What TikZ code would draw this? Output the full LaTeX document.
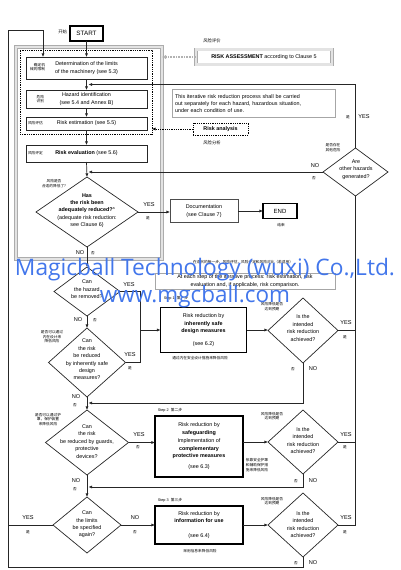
\documentclass[tikz,border=0pt]{standalone}
\usepackage{fontspec}
\setmainfont{Liberation Sans}
\newfontfamily\cjk{Noto Sans CJK SC}
\newfontfamily\wmfont{Open Sans}
\usetikzlibrary{shapes.geometric,arrows.meta}
\definecolor{wmblue}{RGB}{66,118,235}
\newcommand\myfs{\fontsize{5.4}{7.4}\selectfont}
\newcommand\zhfs{\cjk\fontsize{3.7}{4.6}\selectfont}
\begin{document}
\begin{tikzpicture}[x=1pt,y=-1pt,
  every node/.style={inner sep=0pt, outer sep=0pt},
  box/.style={draw=black!85, line width=0.7pt, align=center, font=\myfs},
  tbox/.style={draw=black, line width=1.6pt, align=center, font=\myfs},
  dia/.style={diamond, draw=black!85, line width=0.7pt, inner sep=0pt},
  dtxt/.style={align=center, font=\myfs},
  zh/.style={align=center, font=\zhfs},
  lab/.style={font=\fontsize{5.6}{6}\selectfont},
  ln/.style={draw=black!85, line width=0.7pt},
  arr/.style={ln, -{Latex[length=3.6pt,width=3.2pt]}},
  hatch/.style={draw=gray!65, line width=0.5pt, double=gray!22, double distance=2.8pt},
  dotbox/.style={draw=black, line width=0.9pt, dash pattern=on 0.9pt off 0.9pt},
  notebox/.style={draw=gray!70, line width=0.5pt, font=\myfs},
  wmark/.style={text=wmblue, font=\wmfont}
]
\useasboundingbox (0,0) rectangle (400,570);

% risk assessment frames
\node[hatch, minimum width=146pt, minimum height=212pt] (assess) at (89,153) {};
\node[dotbox, minimum width=132pt, minimum height=84pt] (analysis) at (86,92) {};
\node[hatch, double distance=2.4pt, minimum width=136pt, minimum height=15pt, font=\myfs] (ra) at (264,57) {\textbf{RISK ASSESSMENT} according to Clause 5};
\node[zh, font=\cjk\fontsize{4.3}{5}\selectfont] (razh) at (212,41) {风险评价};
\draw[draw=gray!60, line width=1.1pt, dash pattern=on 0.8pt off 0.8pt, -{Latex[open,length=4pt,width=4.5pt]}] (ra.west) -- (ra.west -| assess.east);
\node[dotbox, minimum width=55pt, minimum height=12pt, font=\myfs] (ranal) at (220.5,129) {\textbf{Risk analysis}};
\node[zh, font=\cjk\fontsize{4.3}{5}\selectfont] (ranzh) at (212,143) {风险分析};
\draw[draw=black, line width=0.9pt, dash pattern=on 0.9pt off 0.9pt, -{Latex[length=3.6pt,width=3.2pt]}] (ranal.west) -- (ranal.west -| analysis.east);

\node[notebox, minimum width=163pt, minimum height=28pt, align=left, text width=157pt] (note) at (253.5,103.5) {This iterative risk reduction process shall be carried\\out separately for each hazard, hazardous situation,\\under each condition of use.};

% start
\node[tbox, minimum width=33pt, minimum height=15pt, font=\fontsize{6.3}{7}\selectfont] (start) at (86.5,33.5) {START};
\node[zh, anchor=east, font=\cjk\fontsize{4.3}{5}\selectfont] (kaishi) at (67,32) {开始};

% analysis steps
\node[box, minimum width=121pt, minimum height=22pt] (det) at (86.5,68) {Determination of the limits\\of the machinery (see 5.3)};
\node[zh, anchor=east, align=right] (detzh) at (45,67) {确定机\\械的限制};
\node[box, minimum width=121pt, minimum height=18pt] (haz) at (86.5,99) {Hazard identification\\(see 5.4 and Annex B)};
\node[zh, anchor=east, align=right] (hazzh) at (44,99) {危险\\识别};
\node[box, minimum width=121pt, minimum height=13pt] (est) at (86.5,123.5) {Risk estimation (see 5.5)};
\node[zh, anchor=west] (estzh) at (28,123.5) {风险评估};
\node[box, minimum width=121pt, minimum height=17pt] (eval) at (86.5,153.5) {\textbf{Risk evaluation} (see 5.6)};
\node[zh, anchor=west] (evalzh) at (28,153.5) {风险评定};

% decision 1
\node[dia, minimum width=102pt, minimum height=70pt] (d1) at (87,212) {};
\node[dtxt] (d1t) at (87,210.5) {\textbf{Has}\\\textbf{the risk been}\\\textbf{adequately reduced?}\textsuperscript{a}\\(adequate risk reduction:\\see Clause 6)};
\node[zh] (d1zh) at (54,183.5) {风险是否\\合适的降低了?};
\node[lab] (d1yes) at (149,205) {YES};
\node[zh] (d1shi) at (148,218) {是};
\node[lab] (d1no) at (80,253) {NO};
\node[zh] (d1fou) at (93,253) {否};

\node[box, draw=black!70, minimum width=68pt, minimum height=23pt] (doc) at (204,211) {Documentation\\(see Clause 7)};
\node[tbox, minimum width=34pt, minimum height=15pt, font=\fontsize{6}{7}\selectfont] (endn) at (280,211) {END};
\node[zh] (endzh) at (281,225) {结束};

% other hazards
\node[dia, minimum width=65pt, minimum height=48pt] (rh) at (355.5,172) {};
\node[dtxt] (rht) at (356,169.5) {Are\\other hazards\\generated?};
\node[zh] (rhzh) at (333,147.5) {是否存在\\其他危险};
\node[lab] (rhyes) at (364,117) {YES};
\node[zh] (rhshi) at (348,117) {是};
\node[lab] (rhno) at (315,166) {NO};
\node[zh] (rhfou) at (314,178) {否};

% step notes
\node[zh] (stepzh) at (243,262) {在迭代的每一步，风险评估，风险评定和风险对比（若适用）};
\node[notebox, minimum width=180pt, minimum height=16pt, align=center] (stepnote) at (245,281) {At each step of the iterative process: risk estimation, risk\\evaluation and, if applicable, risk comparison.};

% decision 2, 3
\node[dia, minimum width=66pt, minimum height=49pt] (d2) at (87,291.5) {};
\node[dtxt] (d2t) at (87,289.5) {Can\\the hazard\\be removed?};
\node[lab] (d2yes) at (129,285) {YES};
\node[lab] (d2no) at (78,320) {NO};
\node[zh] (d2fou) at (95,320) {否};

\node[dia, minimum width=77pt, minimum height=69pt] (d3) at (87,362.5) {};
\node[dtxt] (d3t) at (87,359.5) {Can\\the risk\\be reduced\\by inherently safe\\design\\measures?};
\node[zh] (d3zh) at (52,337) {是否可以通过\\内在设计来\\降低风险};
\node[lab] (d3yes) at (130,355) {YES};
\node[zh] (d3shi) at (130,368) {是};
\node[lab] (d3no) at (76,397) {NO};
\node[zh] (d3fou) at (75,405) {否};

% step 1
\node[zh, font=\fontsize{3.8}{4.6}\selectfont] (step1) at (176,298) {Step 1\ \ {\cjk 第一步}};
\node[tbox, minimum width=86pt, minimum height=45pt] (b1) at (203.5,330) {Risk reduction by\\\textbf{inherently safe}\\\textbf{design measures}\\[5pt](see 6.2)};
\node[zh] (b1zh) at (200,358) {通过内在安全设计措施来降低风险};
\node[dia, minimum width=70pt, minimum height=65pt] (r1) at (303,330.5) {};
\node[dtxt] (r1t) at (303,328) {Is the\\intended\\risk reduction\\achieved?};
\node[zh] (r1zh) at (272,306.5) {风险降低是否\\达到预期};
\node[lab] (r1yes) at (346,323) {YES};
\node[zh] (r1shi) at (345,337) {是};
\node[lab] (r1no) at (313,369) {NO};
\node[zh] (r1fou) at (293,369) {否};

% decision 4
\node[dia, minimum width=83pt, minimum height=65pt] (d4) at (87,442.5) {};
\node[dtxt] (d4t) at (87,441.5) {Can\\the risk\\be reduced by guards,\\protective\\devices?};
\node[zh] (d4zh) at (48,419.5) {是否可以通过护\\罩，保护装置\\来降低风险};
\node[lab] (d4yes) at (139,435) {YES};
\node[zh] (d4fou2) at (138,447) {否};
\node[lab] (d4no) at (76,481) {NO};
\node[zh] (d4fou) at (75,489) {否};

% step 2
\node[zh, font=\fontsize{3.8}{4.6}\selectfont] (step2) at (170,410) {Step 2\ \ {\cjk 第二步}};
\node[tbox, minimum width=88pt, minimum height=61pt] (b2) at (199,446.5) {Risk reduction by\\\textbf{safeguarding}\\[1pt]Implementation of\\\textbf{complementary}\\\textbf{protective measures}\\[4pt](see 6.3)};
\node[zh, align=left] (b2zh) at (257,465) {依靠安全护罩\\和辅助保护措\\施来降低风险};
\node[dia, minimum width=70pt, minimum height=64pt] (r2) at (303,442) {};
\node[dtxt] (r2t) at (303,440.5) {Is the\\intended\\risk reduction\\achieved?};
\node[zh] (r2zh) at (272,416) {风险降低是否\\达到预期};
\node[lab] (r2yes) at (346,435) {YES};
\node[zh] (r2shi) at (345,447) {是};
\node[lab] (r2no) at (313,481) {NO};
\node[zh] (r2fou) at (296,481) {否};

% decision 5
\node[dia, minimum width=68pt, minimum height=56pt] (d5) at (87,525) {};
\node[dtxt] (d5t) at (87,524.5) {Can\\the limits\\be specified\\again?};
\node[lab] (d5yes) at (28,518) {YES};
\node[zh] (d5shi) at (28,532) {是};
\node[lab] (d5no) at (135,518) {NO};
\node[zh] (d5fou) at (135,532) {否};

% step 3
\node[zh, font=\fontsize{3.8}{4.6}\selectfont] (step3) at (170,500) {Step 3\ \ {\cjk 第三步}};
\node[tbox, minimum width=88pt, minimum height=38pt] (b3) at (199,525) {Risk reduction by\\\textbf{information for use}\\[7pt](see 6.4)};
\node[zh] (b3zh) at (200,551) {采用信息来降低风险};
\node[dia, minimum width=70pt, minimum height=64pt] (r3) at (303,525) {};
\node[dtxt] (r3t) at (303,524.5) {Is the\\intended\\risk reduction\\achieved?};
\node[zh] (r3zh) at (272,501) {风险降低是否\\达到预期};
\node[lab] (r3yes) at (346,518) {YES};
\node[zh] (r3shi) at (345,532) {是};
\node[lab] (r3no) at (313,563) {NO};
\node[zh] (r3fou) at (296,563) {否};

% coordinates
\coordinate (cBL) at (8,567);
\coordinate (cTL) at (8,30);
\coordinate (cTR) at (43,30);
\coordinate (cIn) at (43,57);
\coordinate (cHaz) at (88.5,84.5);
\coordinate (cEv) at (88.5,172);
\coordinate (cJ) at (140,330);
\coordinate (cD3) at (88.5,403);
\coordinate (cD4) at (88.5,487);

% connectors
\draw[arr] (start.south) -- (det.north);
\draw[arr] (det.south) -- (haz.north);
\draw[arr] (haz.south) -- (est.north);
\draw[arr] (est.south) -- (eval.north);
\draw[arr] (eval.south) -- (d1.north);
\draw[arr] (d1.east) -- (d1.east -| doc.west);
\draw[arr] (doc.east) -- (endn.west);
\draw[arr] (d1.south) -- (d2.north);
\draw[arr] (rh.west) -- (cEv);
\draw[arr] (rh.north) |- (cHaz);
\draw[ln] (d2.east) -| (cJ);
\draw[ln] (d3.east) -| (cJ);
\draw[arr] (cJ) -- (b1.west);
\draw[arr] (d2.south) -- (d3.north);
\draw[arr] (b1.east) -- (b1.east -| r1.west);
\draw[ln] (r1.east) -| (rh.south);
\draw[arr] (r1.south) |- (cD3);
\draw[arr] (d3.south) -- (d4.north);
\draw[arr] (d4.east) -- (d4.east -| b2.west);
\draw[arr] (b2.east |- r2.west) -- (r2.west);
\draw[ln] (r2.east) -| (rh.south);
\draw[arr] (r2.south) |- (cD4);
\draw[arr] (d4.south) -- (d5.north);
\draw[arr] (d5.east) -- (b3.west);
\draw[arr] (b3.east) -- (r3.west);
\draw[ln] (r3.east) -| (rh.south);
\draw[ln] (d5.west) -- (d5.west -| cBL);
\draw[arr] (r3.south) |- (cBL) -- (cTL) -- (cTR) -- (cIn);

% watermark
\node[wmark] (wm1) at (205,270) {\resizebox{380pt}{!}{Magicball Technology (wuxi) Co.,Ltd.}};
\node[wmark] (wm2) at (195,297) {\resizebox{190pt}{!}{www.mgcball.com}};
\end{tikzpicture}
\end{document}
